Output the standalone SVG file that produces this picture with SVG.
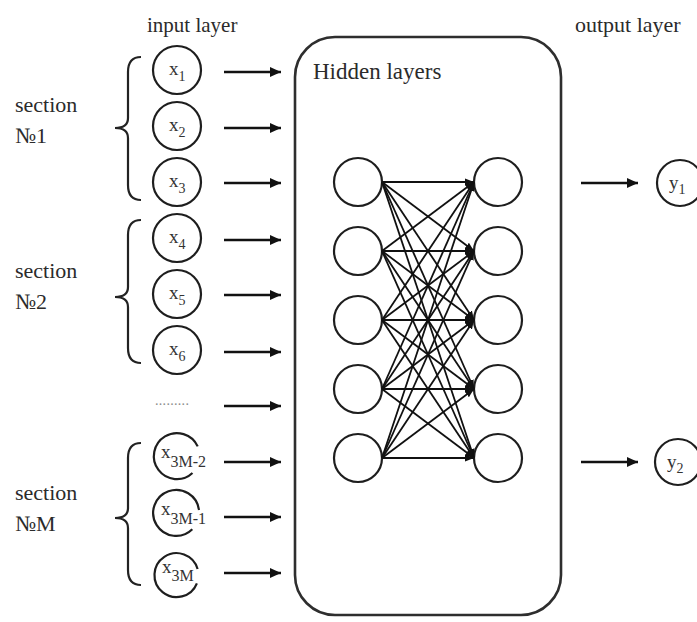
<svg xmlns="http://www.w3.org/2000/svg" width="697" height="622" viewBox="0 0 697 622">
  <style>
    text { font-family: "Liberation Serif", "Times New Roman", Tinos, "DejaVu Serif", serif; }
    .lbl { font-size: 22px; fill: #2b2b2b; }
    .var { font-size: 19px; fill: #333; }
    .sub { font-size: 14px; }
    .big { font-size: 16px; }
    .node { fill: #fff; stroke: #1e1e1e; stroke-width: 2.2; }
    .open { fill: none; stroke: #1e1e1e; stroke-width: 2.2; }
    .brace { fill: none; stroke: #222; stroke-width: 2.2; }
    .arrow { stroke: #111; stroke-width: 2.6; fill: none; marker-end: url(#head); }
    .link { stroke: #111; stroke-width: 1.8; fill: none; marker-end: url(#tip); }
  </style>
  <defs>
    <marker id="head" markerUnits="userSpaceOnUse" markerWidth="12" markerHeight="12" refX="11" refY="6" orient="auto">
      <path d="M0,1 L11,6 L0,11 Z" fill="#111"/>
    </marker>
    <marker id="tip" markerUnits="userSpaceOnUse" markerWidth="10" markerHeight="10" refX="9" refY="5" orient="auto">
      <path d="M0,1.5 L9,5 L0,8.5 Z" fill="#111"/>
    </marker>
  </defs>

  <rect width="697" height="622" fill="#fff"/>

  <!-- headings -->
  <text class="lbl" x="147" y="32" style="font-size:21px">input layer</text>
  <text class="lbl" x="575" y="32">output layer</text>

  <!-- section labels and braces -->
  <g id="section-1">
    <text class="lbl" x="15" y="112">section</text>
    <text class="lbl" x="15" y="143">№1</text>
    <path class="brace" d="M141,57 Q128,57 128,72 L128,118 Q128,128 115,128 Q128,128 128,138 L128,185 Q128,200 141,200"/>
  </g>
  <g id="section-2">
    <text class="lbl" x="15" y="278">section</text>
    <text class="lbl" x="15" y="309">№2</text>
    <path class="brace" d="M141,220 Q128,220 128,235 L128,287 Q128,297 115,297 Q128,297 128,307 L128,348 Q128,363 141,363"/>
  </g>
  <g id="section-M">
    <text class="lbl" x="15" y="500">section</text>
    <text class="lbl" x="15" y="531">№M</text>
    <path class="brace" d="M141,443 Q128,443 128,458 L128,508 Q128,518 115,518 Q128,518 128,528 L128,570 Q128,585 141,585"/>
  </g>

  <!-- input nodes -->
  <g id="x1"><circle class="node" cx="177" cy="70" r="24"/><text class="var" x="169" y="75">x<tspan class="sub" dy="6">1</tspan></text></g>
  <g id="x2"><circle class="node" cx="177" cy="126" r="24"/><text class="var" x="169" y="131">x<tspan class="sub" dy="6">2</tspan></text></g>
  <g id="x3"><circle class="node" cx="177" cy="182" r="24"/><text class="var" x="169" y="187">x<tspan class="sub" dy="6">3</tspan></text></g>
  <g id="x4"><circle class="node" cx="177" cy="238" r="24"/><text class="var" x="169" y="243">x<tspan class="sub" dy="6">4</tspan></text></g>
  <g id="x5"><circle class="node" cx="177" cy="294" r="24"/><text class="var" x="169" y="299">x<tspan class="sub" dy="6">5</tspan></text></g>
  <g id="x6"><circle class="node" cx="177" cy="350" r="24"/><text class="var" x="169" y="355">x<tspan class="sub" dy="6">6</tspan></text></g>
  <g id="ellipsis"><text x="155" y="405" style="font-size:14px;fill:#8a8a8a;letter-spacing:0.3px">.........</text></g>
  <g id="x3M-2">
    <path class="open" d="M197.7,446.4 A23,23 0 1 0 192.5,473"/>
    <text class="var" x="161" y="458">x<tspan class="big" dy="9">3M-2</tspan></text>
  </g>
  <g id="x3M-1">
    <path class="open" d="M199,510 A23,23 0 1 0 192.3,529.3"/>
    <text class="var" x="161" y="515">x<tspan class="big" dy="9">3M-1</tspan></text>
  </g>
  <g id="x3M">
    <path class="open" d="M197.6,569 A22,22 0 1 0 196.9,583.3"/>
    <text class="var" x="162" y="573">x<tspan class="big" dy="8">3M</tspan></text>
  </g>

  <!-- hidden block -->
  <g id="hidden-block">
    <rect x="295" y="37" width="266" height="578" rx="40" ry="40" fill="none" stroke="#2e2e2e" stroke-width="2.6"/>
    <text class="lbl" x="313" y="79" style="font-size:23px">Hidden layers</text>
  </g>
  <g id="h1-1"><circle class="node" cx="358" cy="182" r="24"/></g>
  <g id="h1-2"><circle class="node" cx="358" cy="251" r="24"/></g>
  <g id="h1-3"><circle class="node" cx="358" cy="320" r="24"/></g>
  <g id="h1-4"><circle class="node" cx="358" cy="389" r="24"/></g>
  <g id="h1-5"><circle class="node" cx="358" cy="458" r="24"/></g>
  <g id="h2-1"><circle class="node" cx="498" cy="182" r="24"/></g>
  <g id="h2-2"><circle class="node" cx="498" cy="251" r="24"/></g>
  <g id="h2-3"><circle class="node" cx="498" cy="320" r="24"/></g>
  <g id="h2-4"><circle class="node" cx="498" cy="389" r="24"/></g>
  <g id="h2-5"><circle class="node" cx="498" cy="458" r="24"/></g>

  <!-- output nodes -->
  <g id="y1"><circle class="node" cx="680" cy="183" r="23"/><text class="var" x="669" y="189">y<tspan class="sub" dy="5">1</tspan></text></g>
  <g id="y2"><circle class="node" cx="678" cy="462" r="23"/><text class="var" x="667" y="468">y<tspan class="sub" dy="5">2</tspan></text></g>

  <!-- connectors -->
  <g id="connectors">
    <line class="arrow" x1="224" y1="72" x2="281" y2="72"/>
    <line class="arrow" x1="224" y1="128" x2="281" y2="128"/>
    <line class="arrow" x1="224" y1="183" x2="281" y2="183"/>
    <line class="arrow" x1="224" y1="240" x2="281" y2="240"/>
    <line class="arrow" x1="224" y1="295" x2="281" y2="295"/>
    <line class="arrow" x1="224" y1="352" x2="281" y2="352"/>
    <line class="arrow" x1="224" y1="406" x2="281" y2="406"/>
    <line class="arrow" x1="224" y1="462" x2="281" y2="462"/>
    <line class="arrow" x1="224" y1="517" x2="281" y2="517"/>
    <line class="arrow" x1="224" y1="573" x2="281" y2="573"/>

    <line class="link" x1="382" y1="182" x2="474" y2="182"/>
    <line class="link" x1="382" y1="182" x2="474" y2="251"/>
    <line class="link" x1="382" y1="182" x2="474" y2="320"/>
    <line class="link" x1="382" y1="182" x2="474" y2="389"/>
    <line class="link" x1="382" y1="182" x2="474" y2="458"/>
    <line class="link" x1="382" y1="251" x2="474" y2="182"/>
    <line class="link" x1="382" y1="251" x2="474" y2="251"/>
    <line class="link" x1="382" y1="251" x2="474" y2="320"/>
    <line class="link" x1="382" y1="251" x2="474" y2="389"/>
    <line class="link" x1="382" y1="251" x2="474" y2="458"/>
    <line class="link" x1="382" y1="320" x2="474" y2="182"/>
    <line class="link" x1="382" y1="320" x2="474" y2="251"/>
    <line class="link" x1="382" y1="320" x2="474" y2="320"/>
    <line class="link" x1="382" y1="320" x2="474" y2="389"/>
    <line class="link" x1="382" y1="320" x2="474" y2="458"/>
    <line class="link" x1="382" y1="389" x2="474" y2="182"/>
    <line class="link" x1="382" y1="389" x2="474" y2="251"/>
    <line class="link" x1="382" y1="389" x2="474" y2="320"/>
    <line class="link" x1="382" y1="389" x2="474" y2="389"/>
    <line class="link" x1="382" y1="389" x2="474" y2="458"/>
    <line class="link" x1="382" y1="458" x2="474" y2="182"/>
    <line class="link" x1="382" y1="458" x2="474" y2="251"/>
    <line class="link" x1="382" y1="458" x2="474" y2="320"/>
    <line class="link" x1="382" y1="458" x2="474" y2="389"/>
    <line class="link" x1="382" y1="458" x2="474" y2="458"/>

    <line class="arrow" x1="581" y1="183" x2="638" y2="183"/>
    <line class="arrow" x1="581" y1="462" x2="638" y2="462"/>
  </g>
</svg>
